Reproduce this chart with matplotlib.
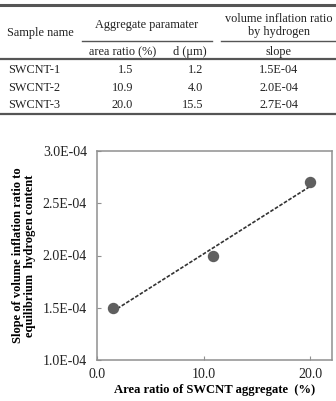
import numpy as np
import matplotlib
matplotlib.use('Agg')
import matplotlib.pyplot as plt
from matplotlib.lines import Line2D
from matplotlib.ticker import FuncFormatter

# table data
sample_names = ['SWCNT-1', 'SWCNT-2', 'SWCNT-3']
area_ratio = [1.5, 10.9, 20.0]
diameter = [1.2, 4.0, 15.5]
slope = [1.5e-4, 2.0e-4, 2.7e-4]

W, H = 336, 401
plt.rcParams['font.family'] = ['Liberation Serif', 'DejaVu Serif']
plt.rcParams['text.color'] = '#222222'

fig = plt.figure(figsize=(W / 100, H / 100), dpi=100)


def fx(x):
    return x / W


def fy(y):
    return 1 - y / H


def hline(y, x0, x1, lw, color='#555555'):
    fig.add_artist(Line2D([fx(x0), fx(x1)], [fy(y), fy(y)], lw=lw, color=color,
                          transform=fig.transFigure))


def txt(x, y, s, ha='center', size=8.8):
    fig.text(fx(x), fy(y), s, ha=ha, va='center', size=size)


# table rules
hline(5, 0, W, 2.2)
hline(41, 82, 212, 1.0)
hline(41, 221, W, 1.0)
hline(59, 0, W, 1.6)
hline(114, 0, W, 1.6)

# headers
txt(40, 33, 'Sample name')
txt(147, 25, 'Aggregate paramater')
txt(279, 19, 'volume inflation ratio')
txt(279, 32, 'by hydrogen')
txt(123, 52, 'area ratio (%)')
txt(190, 52, 'd (\u03bcm)')
txt(279, 52, 'slope')

row_y = [70, 88, 105]
for i in range(3):
    txt(8, row_y[i], sample_names[i], ha='left')
    txt(133, row_y[i], '%.1f' % area_ratio[i], ha='right')
    txt(203, row_y[i], '%.1f' % diameter[i], ha='right')
    txt(279, row_y[i], '%.1E' % slope[i])

# chart
ax = fig.add_axes([fx(96.7), fy(360), fx(331.7) - fx(96.7), fy(151) - fy(360)])
ax.plot(area_ratio, slope, 'o', color='#5f5f5f', markersize=7.2, zorder=3)
coef = np.polyfit(area_ratio, slope, 1)
xs = np.array([area_ratio[0], area_ratio[-1]])
ax.plot(xs, np.polyval(coef, xs), color='#333333', lw=1.2, ls=(0, (2.2, 1.0)), zorder=2)

ax.set_xlim(0, 22)
ax.set_ylim(1e-4, 3e-4)
ax.set_xticks([0, 10, 20])
ax.set_yticks([1e-4, 1.5e-4, 2e-4, 2.5e-4, 3e-4])
ax.xaxis.set_major_formatter(FuncFormatter(lambda v, p: '%.1f' % v))
ax.yaxis.set_major_formatter(FuncFormatter(lambda v, p: '%.1E' % v))
ax.tick_params(direction='in', length=3, width=0.8, color='#909090', labelsize=10,
               labelcolor='#222222')
ax.tick_params(axis='y', pad=7)
ax.tick_params(axis='x', pad=6)
for s in ax.spines.values():
    s.set_color('#909090')
    s.set_linewidth(1.1)

ax.set_xlabel('Area ratio of SWCNT aggregate  (%)', fontweight='bold', size=9.1, labelpad=2)
ax.set_ylabel('Slope of volume inflation ratio to\nequilibrium  hydrogen content',
              fontweight='bold', size=9.0, labelpad=5, linespacing=1.0)

fig.savefig('out.png', dpi=100)
